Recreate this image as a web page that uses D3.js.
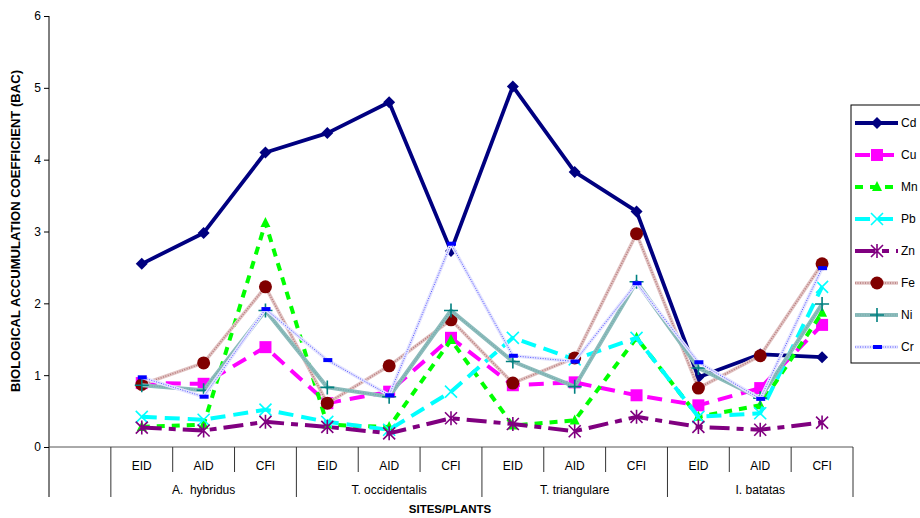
<!DOCTYPE html>
<html><head><meta charset="utf-8">
<script src="https://cdn.jsdelivr.net/npm/d3@7"></script>
<style>body{margin:0;background:#fff}svg{display:block;font-family:"Liberation Sans",Arial,sans-serif}</style>
</head><body><svg id="c" width="920" height="518"></svg>
<script>
const plants = ["A.  hybridus", "T. occidentalis", "T. triangulare", "I. batatas"];
const sites = ["EID", "AID", "CFI"];
const yTicks = [0, 1, 2, 3, 4, 5, 6];
const Cd = [2.55, 2.98, 4.10, 4.37, 4.80, 2.73, 5.02, 3.83, 3.28, 0.97, 1.29, 1.25];
const Cu = [0.89, 0.88, 1.39, 0.61, 0.77, 1.52, 0.86, 0.90, 0.72, 0.58, 0.82, 1.70];
const Mn = [0.28, 0.31, 3.12, 0.31, 0.28, 1.49, 0.30, 0.37, 1.52, 0.42, 0.58, 1.87];
const Pb = [0.42, 0.38, 0.52, 0.35, 0.24, 0.77, 1.52, 1.22, 1.52, 0.42, 0.47, 2.23];
const Zn = [0.27, 0.23, 0.35, 0.28, 0.19, 0.40, 0.32, 0.22, 0.42, 0.28, 0.24, 0.34];
const Fe = [0.87, 1.17, 2.23, 0.61, 1.13, 1.77, 0.89, 1.24, 2.97, 0.82, 1.27, 2.55];
const Ni = [0.86, 0.79, 1.90, 0.83, 0.70, 1.90, 1.19, 0.84, 2.30, 1.10, 0.68, 1.99];
const Cr = [0.97, 0.70, 1.92, 1.21, 0.72, 2.83, 1.27, 1.19, 2.28, 1.18, 0.67, 2.49];

const seriesNames = ["Cd", "Cu", "Mn", "Pb", "Zn", "Fe", "Ni", "Cr"];
const seriesVals = [Cd, Cu, Mn, Pb, Zn, Fe, Ni, Cr];
const styles = {
  Cd: {stroke: "#000080", w: 3.8, dash: null, marker: "diamond", mc: "#000080"},
  Cu: {stroke: "#FF00FF", w: 4, dash: "15,9", marker: "square", mc: "#FF00FF"},
  Mn: {stroke: "#00FF00", w: 4, dash: "8,7", marker: "triangle", mc: "#00FF00"},
  Pb: {stroke: "#00FFFF", w: 4, dash: "15,8", marker: "x", mc: "#00FFFF"},
  Zn: {stroke: "#800080", w: 4, dash: "20,7,7,7", marker: "asterisk", mc: "#800080"},
  Fe: {stroke: "#E2C4C4", w: 3.5, dash: null, marker: "circle", mc: "#800000", over: "#B07070", ow: 1.5},
  Ni: {stroke: "#8CBCBC", w: 4, dash: null, marker: "plus", mc: "#008080", over: "#6FA5A5", ow: 1.2},
  Cr: {stroke: "#E4E4FF", w: 3.5, dash: null, marker: "bar", mc: "#0000FF", over: "#3A3AFF", ow: 1}
};

const cats = [];
plants.forEach(p => sites.forEach(s => cats.push(p + "|" + s)));

const svg = d3.select("#c");
const x = d3.scaleBand().domain([""].concat(cats)).range([49, 853]).padding(0);
const y = d3.scaleLinear().domain([0, 6]).range([447, 16]);
const cx = c => x(c) + x.bandwidth() / 2;

// y axis
const yAxis = svg.append("g").attr("transform", "translate(49,0)")
  .call(d3.axisLeft(y).tickValues(yTicks).tickSize(5).tickSizeOuter(0).tickFormat(d3.format("d")));
yAxis.select(".domain").remove();
yAxis.selectAll("line").attr("stroke", "#000");
yAxis.selectAll("text").attr("font-size", 12).attr("fill", "#000").attr("x", -8);
svg.append("line").attr("x1", 49).attr("x2", 49).attr("y1", y(6)).attr("y2", 497).attr("stroke", "#000");

// x axis
svg.append("line").attr("x1", 49).attr("x2", 853).attr("y1", y(0)).attr("y2", y(0)).attr("stroke", "#555");
cats.forEach((c, i) => {
  const left = x(c);
  const isGroupStart = i % 3 === 0;
  svg.append("line").attr("x1", left).attr("x2", left).attr("y1", y(0))
    .attr("y2", isGroupStart ? 497 : 472).attr("stroke", "#333");
  svg.append("text").attr("x", cx(c)).attr("y", 470).attr("text-anchor", "middle")
    .attr("font-size", 12).text(c.split("|")[1]);
});
const lastC = cats[cats.length - 1];
svg.append("line").attr("x1", x(lastC) + x.bandwidth()).attr("x2", x(lastC) + x.bandwidth())
  .attr("y1", y(0)).attr("y2", 497).attr("stroke", "#333");
plants.forEach(p => {
  const a = x(p + "|EID"), b = x(p + "|CFI") + x.bandwidth();
  svg.append("text").attr("x", (a + b) / 2).attr("y", 494).attr("text-anchor", "middle")
    .attr("font-size", 12).style("white-space", "pre").text(p);
});

svg.append("text").attr("x", 450).attr("y", 513).attr("text-anchor", "middle")
  .attr("font-size", 11.5).attr("font-weight", "bold").text("SITES/PLANTS");
svg.append("text").attr("transform", "translate(20,231) rotate(-90)").attr("text-anchor", "middle")
  .attr("font-size", 12).attr("font-weight", "bold")
  .attr("textLength", 322).attr("lengthAdjust", "spacingAndGlyphs")
  .text("BIOLOGICAL ACCUMULATION COEFFICIENT (BAC)");

function drawMarker(g, type, px, py, col) {
  if (type === "diamond") {
    g.append("path").attr("d", `M${px},${py-6}L${px+6},${py}L${px},${py+6}L${px-6},${py}Z`).attr("fill", col);
  } else if (type === "square") {
    g.append("rect").attr("x", px - 6).attr("y", py - 6).attr("width", 12).attr("height", 12).attr("fill", col);
  } else if (type === "triangle") {
    g.append("path").attr("d", `M${px},${py-6}L${px+5},${py+4}L${px-5},${py+4}Z`).attr("fill", col);
  } else if (type === "x") {
    g.append("path").attr("d", `M${px-6},${py-6}L${px+6},${py+6}M${px+6},${py-6}L${px-6},${py+6}`).attr("stroke", col).attr("stroke-width", 1.6);
  } else if (type === "asterisk") {
    g.append("path").attr("d", `M${px-6},${py-6}L${px+6},${py+6}M${px+6},${py-6}L${px-6},${py+6}M${px},${py-7}L${px},${py+7}`).attr("stroke", col).attr("stroke-width", 1.6);
  } else if (type === "circle") {
    g.append("circle").attr("cx", px).attr("cy", py).attr("r", 6.5).attr("fill", col);
  } else if (type === "plus") {
    g.append("path").attr("d", `M${px-7},${py}L${px+7},${py}M${px},${py-7}L${px},${py+7}`).attr("stroke", col).attr("stroke-width", 1.6);
  } else if (type === "bar") {
    g.append("rect").attr("x", px - 4).attr("y", py - 2).attr("width", 9).attr("height", 4).attr("fill", col);
  }
}

const line = d3.line().x(d => d[0]).y(d => d[1]);
seriesNames.forEach((name, si) => {
  const st = styles[name];
  const pts = seriesVals[si].map((v, i) => [cx(cats[i]), y(v)]);
  const g = svg.append("g");
  const p = g.append("path").attr("d", line(pts)).attr("fill", "none")
    .attr("stroke", st.stroke).attr("stroke-width", st.w).attr("stroke-linejoin", "round");
  if (st.dash) p.attr("stroke-dasharray", st.dash);
  if (st.over) {
    g.append("path").attr("d", line(pts)).attr("fill", "none").attr("stroke", st.over)
      .attr("stroke-width", st.ow).attr("stroke-dasharray", "1,1.5").attr("opacity", 0.85);
  }
  pts.forEach(pt => drawMarker(g, st.marker, pt[0], pt[1], st.mc));
});

// legend
svg.append("rect").attr("x", 851).attr("y", 105).attr("width", 80).attr("height", 258)
  .attr("fill", "#fff").attr("stroke", "#000").attr("stroke-width", 1);
seriesNames.forEach((name, i) => {
  const st = styles[name];
  const ly = 123 + i * 32;
  const g = svg.append("g");
  const p = g.append("line").attr("x1", 855).attr("x2", 898).attr("y1", ly).attr("y2", ly)
    .attr("stroke", st.stroke).attr("stroke-width", st.w);
  if (st.dash) p.attr("stroke-dasharray", st.dash);
  if (st.over) g.append("line").attr("x1", 855).attr("x2", 898).attr("y1", ly).attr("y2", ly)
    .attr("stroke", st.over).attr("stroke-width", st.ow).attr("stroke-dasharray", "1,1.5").attr("opacity", 0.85);
  drawMarker(g, st.marker, 877, ly, st.mc);
  svg.append("text").attr("x", 901).attr("y", ly + 4).attr("font-size", 12).text(name);
});
</script></body></html>
